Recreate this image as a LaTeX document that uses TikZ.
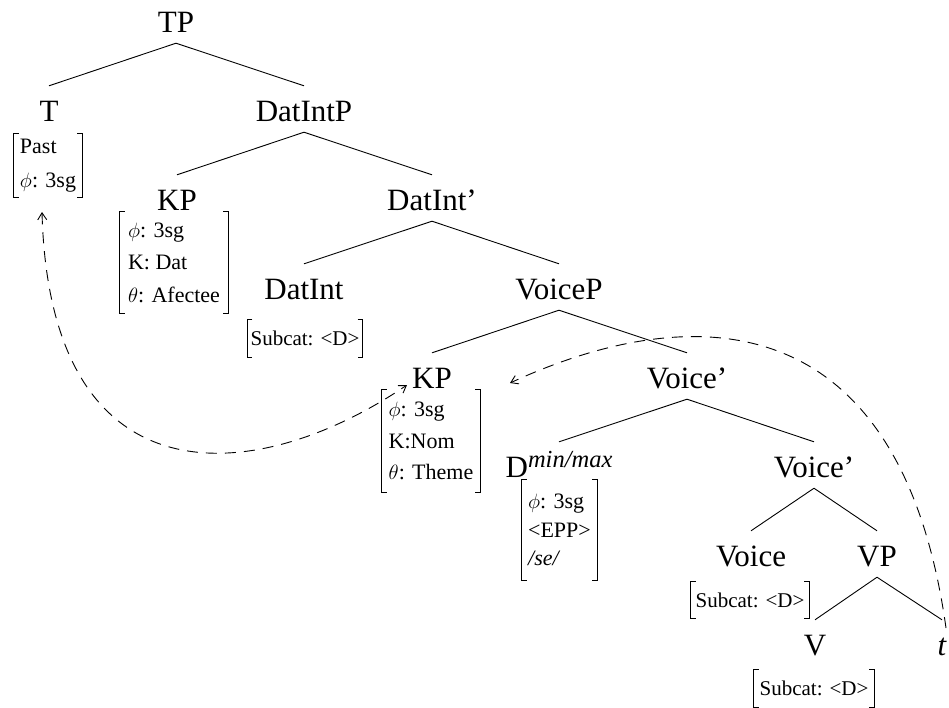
\documentclass[tikz,border=0pt]{standalone}
\usepackage{amsmath}
\usepackage{fontspec}
\setmainfont{Liberation Serif}
\usetikzlibrary{arrows.meta}
\tikzset{mvtip/.tip={Straight Barb[length=7pt,width=9pt]}}
\newcommand\featbrk[1]{%
  \draw[brk] ([xshift=5pt]#1.north west) -- (#1.north west) -- (#1.south west) -- ([xshift=5pt]#1.south west);
  \draw[brk] ([xshift=-5pt]#1.north east) -- (#1.north east) -- (#1.south east) -- ([xshift=-5pt]#1.south east);}
\begin{document}
\begin{tikzpicture}[x=1pt,y=-1pt,
  lab/.style={anchor=base, font=\fontsize{31}{36}\selectfont, text height=31pt, text depth=7pt, inner ysep=4pt, inner xsep=2pt},
  feat/.style={font=\fontsize{22}{#1}\selectfont, align=left, inner sep=0pt},
  feat/.default=31,
  subcat/.style={font=\fontsize{21}{25}\selectfont, inner sep=0pt},
  edge/.style={line width=0.9pt},
  brk/.style={line width=1.1pt},
  mv/.style={line width=0.9pt, dash pattern=on 11pt off 8pt}]
\useasboundingbox (0,0) rectangle (949,707);
% labels
\node[lab] (TP) at (176,32) {TP};
\node[lab] (T) at (49,121) {T};
\node[lab] (DatIntP) at (304,121) {DatIntP};
\node[lab] (KPa) at (177,210) {KP};
\node[lab] (DatIntb) at (432,210) {DatInt'};
\node[lab] (DatInt) at (304,299) {DatInt};
\node[lab] (VoiceP) at (559,299) {VoiceP};
\node[lab] (KPb) at (432,388) {KP};
\node[lab] (Voiceb) at (687,388) {Voice'};
\node[lab] (D) at (559,477) {D\raisebox{10pt}{\fontsize{24.5}{25}\selectfont\itshape min/max}};
\node[lab] (Voicec) at (814,477) {Voice'};
\node[lab] (Voice) at (751,566) {Voice};
\node[lab] (VP) at (877,566) {VP};
\node[lab] (V) at (815,655) {V};
\node[lab] (t) at (942,655) {\itshape t};
% edges
\draw[edge] (TP.south) -- (T.north);
\draw[edge] (TP.south) -- (DatIntP.north);
\draw[edge] (DatIntP.south) -- (KPa.north);
\draw[edge] (DatIntP.south) -- (DatIntb.north);
\draw[edge] (DatIntb.south) -- (DatInt.north);
\draw[edge] (DatIntb.south) -- (VoiceP.north);
\draw[edge] (VoiceP.south) -- (KPb.north);
\draw[edge] (VoiceP.south) -- (Voiceb.north);
\draw[edge] (Voiceb.south) -- (D.north);
\draw[edge] (Voiceb.south) -- (Voicec.north);
\draw[edge] (Voicec.south) -- (Voice.north);
\draw[edge] (Voicec.south) -- (VP.north);
\draw[edge] (VP.south) -- (V.north);
\draw[edge] (VP.south) -- (t.north);
% feature matrices
\node[feat=34, minimum width=68, minimum height=63] (Tf) at (48,165.5) {Past\\$\phi$: 3sg};
\node[feat=32.5, minimum width=108, minimum height=101] (KPaf) at (174,262.5) {$\phi$: 3sg\\K: Dat\\$\theta$: Afectee};
\node[subcat, minimum width=115, minimum height=37] (DatIntf) at (305,338.5) {Subcat: <D>};
\node[feat=31.5, minimum width=98, minimum height=102] (KPbf) at (431,441) {$\phi$: 3sg\\K:Nom\\$\theta$: Theme};
\node[feat=28.5, minimum width=75, minimum height=100] (Df) at (559.5,530) {$\phi$: 3sg\\<EPP>\\\textit{/se/}};
\node[subcat, minimum width=118, minimum height=36] (Voicef) at (750,600) {Subcat: <D>};
\node[subcat, minimum width=120, minimum height=37] (Vf) at (814,688.5) {Subcat: <D>};
\featbrk{Tf}
\featbrk{KPaf}
\featbrk{DatIntf}
\featbrk{KPbf}
\featbrk{Df}
\featbrk{Voicef}
\featbrk{Vf}
% movement arrows
\coordinate (m1s) at (946,628);
\coordinate (m1e) at (510,383);
\draw[mv, -{mvtip}] (m1s) .. controls (900,300) and (690,300) .. (m1e);
\coordinate (m2a) at (42,212);
\coordinate (m2b) at (407,385);
\draw[mv, {mvtip}-{mvtip}] (m2a) .. controls (50,505) and (255,488) .. (m2b);
\end{tikzpicture}
\end{document}
